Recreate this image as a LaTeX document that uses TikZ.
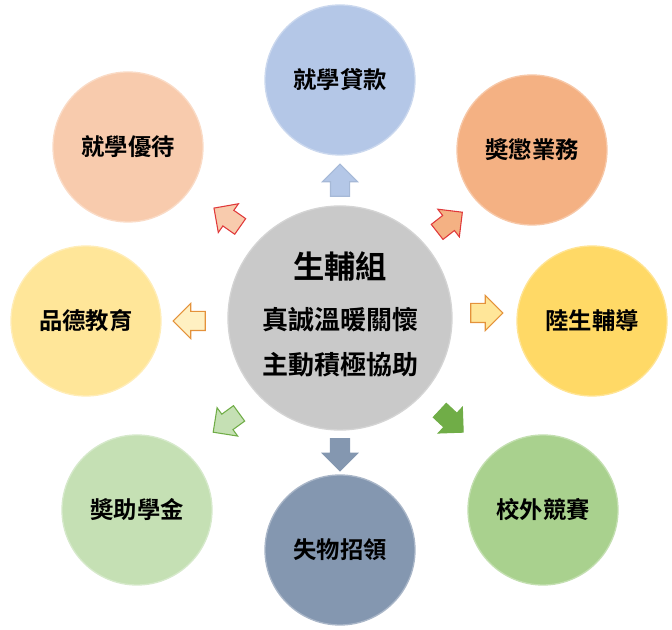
\documentclass[tikz,border=0pt]{standalone}
\usepackage{fontspec}
\newfontfamily\cjk{Noto Sans CJK TC}[BoldFont={Noto Sans CJK TC Bold}]
\usepackage{tikz}
\usetikzlibrary{shapes.arrows,positioning}
\definecolor{halvkek}{HTML}{B4C7E7}
\definecolor{narancs}{HTML}{F4B183}
\definecolor{sarga}{HTML}{FFD966}
\definecolor{halvsarga}{HTML}{FFE699}
\definecolor{zold}{HTML}{A9D18E}
\definecolor{halvzold}{HTML}{C5E0B4}
\definecolor{sotzold}{HTML}{70AD47}
\definecolor{palakek}{HTML}{8497B0}
\definecolor{barack}{HTML}{F8CBAD}
\definecolor{szurke}{HTML}{C9C9C9}
\definecolor{piros}{HTML}{E0393A}
\definecolor{okker}{HTML}{E4923B}
\tikzset{
  kor/.style={circle,minimum size=112.5pt,inner sep=0pt,line width=1pt,font=\cjk\bfseries\fontsize{17.5pt}{20pt}\selectfont},
  blokk/.style={single arrow,minimum height=24pt,inner xsep=0pt,inner ysep=6.75pt,single arrow head extend=6pt,line width=0.8pt},
}
\begin{document}
\begin{tikzpicture}[x=0.75pt,y=-0.75pt]
  \useasboundingbox (0,0) rectangle (672,630);
  % kozepso kor
  \node (kozep) [circle,fill=szurke,draw=szurke!80!white,line width=1pt,minimum size=168pt,inner sep=0pt] at (340,318) {};
  \node (cim) [font=\cjk\bfseries\fontsize{23.5pt}{26pt}\selectfont] at (340,266) {生輔組};
  \node (sor1) [font=\cjk\bfseries\fontsize{19.5pt}{22pt}\selectfont] at (340,320) {真誠溫暖關懷};
  \node (sor2) [font=\cjk\bfseries\fontsize{19.5pt}{22pt}\selectfont] at (340,365) {主動積極協助};
  % kulso korok
  \node (kolcson) [kor,fill=halvkek,draw=halvkek!70!white] at (340,80) {就學貸款};
  \node (jutalom) [kor,fill=narancs,draw=narancs!70!white] at (532,150) {奬懲業務};
  \node (diak) [kor,fill=sarga,draw=sarga!70!white] at (592,321) {陸生輔導};
  \node (verseny) [kor,fill=zold,draw=zold!70!white] at (543,510) {校外競賽};
  \node (talalt) [kor,fill=palakek,draw=palakek!70!white] at (340,550) {失物招領};
  \node (osztondij) [kor,fill=halvzold,draw=halvzold!70!white] at (137,510) {奬助學金};
  \node (erkolcs) [kor,fill=halvsarga,draw=halvsarga!70!white] at (86,321) {品德教育};
  \node (kedvezmeny) [kor,fill=barack,draw=barack!70!white] at (128,147) {就學優待};
  % nyilak
  \node (n1) [blokk,fill=halvkek,draw=halvkek!70!palakek,rotate=90] at (340,185) {};
  \node (n2) [blokk,fill=narancs,draw=piros,rotate=38] at (446,225) {};
  \node (n3) [blokk,fill=halvsarga,draw=okker,rotate=0] at (482,313) {};
  \node (n4) [blokk,fill=sotzold,draw=sotzold,rotate=-43] at (448,418) {};
  \node (n5) [blokk,fill=palakek,draw=palakek,rotate=-90] at (340,450) {};
  \node (n6) [blokk,fill=halvzold,draw=sotzold,rotate=-144] at (230,420) {};
  \node (n7) [blokk,fill=halvsarga!60!white,draw=okker,rotate=180] at (194,321) {};
  \node (n8) [blokk,fill=barack,draw=piros,rotate=145] at (231,220) {};
\end{tikzpicture}
\end{document}
